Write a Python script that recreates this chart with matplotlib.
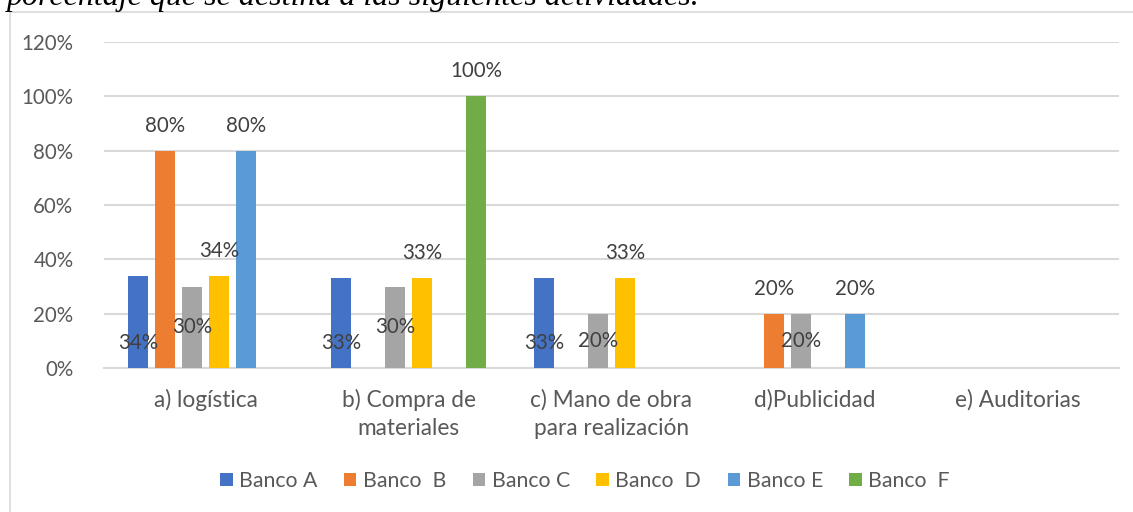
import numpy as np
import matplotlib.pyplot as plt
from matplotlib.lines import Line2D

categories = ["a) logística", "b) Compra de\nmateriales", "c) Mano de obra\npara realización",
              "d)Publicidad", "e) Auditorias"]
series = ["Banco A", "Banco  B", "Banco C", "Banco  D", "Banco E", "Banco  F"]
values = [
    [34, 33, 33, 0, 0],    # Banco A
    [80, 0, 0, 20, 0],     # Banco B
    [30, 30, 20, 20, 0],   # Banco C
    [34, 33, 33, 0, 0],    # Banco D
    [80, 0, 0, 20, 0],     # Banco E
    [0, 100, 0, 0, 0],     # Banco F
]
colors = ["#4472C4", "#ED7D31", "#A5A5A5", "#FFC000", "#5B9BD5", "#70AD47"]
# where each series puts its labels (as in the original sheet)
label_pos = ["base", "end", "center", "end", "end", "end"]

plt.rcParams['font.family'] = ['Lato', 'DejaVu Sans']

fig = plt.figure(figsize=(11.33, 5.12), dpi=100)
ax = fig.add_axes([104 / 1133, 1 - 368 / 512, (1119 - 104) / 1133, (368 - 42) / 512])

# chart border (cut off at right and bottom in the source)
fig.add_artist(Line2D([10 / 1133, 10 / 1133], [0, 1 - 12 / 512], color="#D9D9D9", lw=1.2))
fig.add_artist(Line2D([10 / 1133, 1], [1 - 12 / 512, 1 - 12 / 512], color="#D9D9D9", lw=1.2))

# heading above the chart, partly cut off
fig.text(7 / 1133, 1 - 5 / 512, "porcentaje que se destina a las siguientes actividades.",
         family="Liberation Serif", style="italic", fontsize=23, va="baseline", ha="left")

x = np.arange(len(categories))
step = 0.133
width = 0.103
for i, (name, vals) in enumerate(zip(series, values)):
    pos = x + (i - 2.5) * step
    ax.bar(pos, vals, width, color=colors[i], label=name, zorder=3)
    for px, v in zip(pos, vals):
        if v == 0:
            continue
        if label_pos[i] == "base":
            y = 9.2
        elif label_pos[i] == "center":
            y = v / 2
        else:
            y = v + 9.2
        ax.text(px, y, f"{v}%", ha="center", va="center", fontsize=14.8, color="#404040", zorder=4)

ax.set_xlim(-0.5, len(categories) - 0.5)
ax.set_ylim(0, 120)
ax.set_yticks(range(0, 121, 20))
ax.set_yticklabels([f"{t}%" for t in range(0, 121, 20)])
ax.set_xticks(x)
ax.set_xticklabels(categories, fontsize=16.3, linespacing=1.43)
ax.yaxis.grid(True, color="#D9D9D9", lw=1.5, zorder=0)
for s in ["top", "right", "left"]:
    ax.spines[s].set_visible(False)
ax.spines["bottom"].set_color("#D9D9D9")
ax.spines["bottom"].set_linewidth(1.5)
ax.tick_params(axis="both", length=0, labelcolor="#595959")
ax.tick_params(axis="y", pad=22, labelsize=14.8)
ax.tick_params(axis="x", pad=15)

ax.legend(loc="center", bbox_to_anchor=(585 / 1133, 1 - 481 / 512), bbox_transform=fig.transFigure,
          ncol=6, frameon=False, fontsize=15.3, labelcolor="#595959",
          handlelength=0.6, handleheight=0.6, handletextpad=0.3, columnspacing=1.24)

fig.savefig("out.png", dpi=100)
